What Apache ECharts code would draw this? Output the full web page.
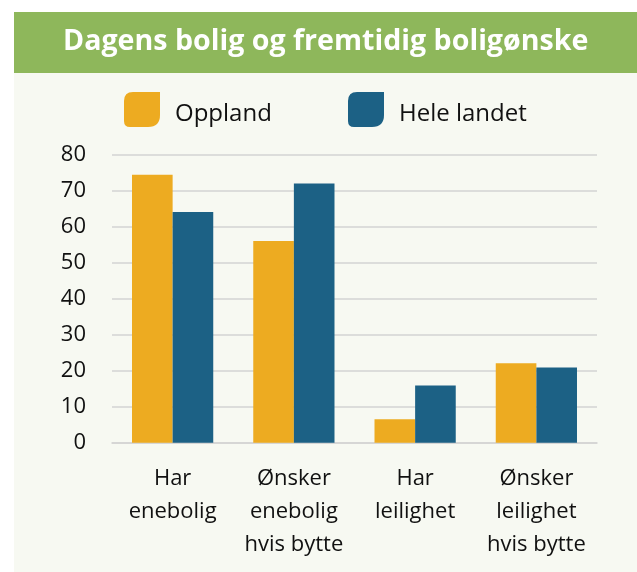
<!DOCTYPE html>
<html>
<head>
<meta charset="utf-8">
<script src="https://cdn.jsdelivr.net/npm/echarts@6/dist/echarts.min.js"></script>
<style>html,body{margin:0;padding:0;background:#fff;}#c{width:637px;height:572px;}</style>
</head>
<body>
<div id="c"></div>
<script>
var titleText = 'Dagens bolig og fremtidig boligønske';
var categories = ['Har\nenebolig', 'Ønsker\nenebolig\nhvis bytte', 'Har\nleilighet', 'Ønsker\nleilighet\nhvis bytte'];
var seriesNames = ['Oppland', 'Hele landet'];
var oppland = [74.4, 56.0, 6.5, 22.1];
var heleLandet = [64.1, 72.0, 15.9, 20.9];
var yTicks = [0, 10, 20, 30, 40, 50, 60, 70, 80];

var leaf = 'path://M9,0 L36,0 L36,23 Q36,35 24,35 L6,35 Q0,35 0,29 L0,9 Q0,0 9,0 Z';
var chart = echarts.init(document.getElementById('c'), null, {renderer: 'canvas'});
var font = '"Open Sans", sans-serif';
var legendText = {
  fontFamily: font, fontSize: 24, color: '#111', padding: [0, 0, 0, 10],
  rich: {n: {fontFamily: font, fontSize: 24, color: '#111', padding: [9, 0, 0, 0]}}
};
chart.setOption({
  backgroundColor: '#ffffff',
  animation: false,
  graphic: [
    {type: 'rect', z: -10, shape: {x: 14, y: 12, width: 623, height: 560}, style: {fill: '#F7F9F2'}},
    {type: 'rect', z: -9, shape: {x: 14, y: 12, width: 623, height: 61}, style: {fill: '#8EB75B'}}
  ],
  title: {
    text: titleText, left: 63, top: 27, padding: 0,
    textStyle: {color: '#ffffff', fontFamily: font, fontWeight: 'bold', fontSize: 28.6}
  },
  legend: [
    {data: [seriesNames[0]], left: 124, top: 92, padding: 0, itemWidth: 36, itemHeight: 35, icon: leaf,
     formatter: '{n|{name}}', textStyle: legendText},
    {data: [seriesNames[1]], left: 348, top: 92, padding: 0, itemWidth: 36, itemHeight: 35, icon: leaf,
     formatter: '{n|{name}}', textStyle: legendText}
  ],
  grid: {left: 112, right: 40, top: 154.7, bottom: 129.3},
  xAxis: {
    type: 'category', data: categories,
    axisLine: {show: true, lineStyle: {color: '#D3D3D3', width: 1.5}},
    axisTick: {show: false},
    axisLabel: {fontFamily: font, fontSize: 22, color: '#111', lineHeight: 33, margin: 20, interval: 0}
  },
  yAxis: {
    type: 'value', min: yTicks[0], max: yTicks[yTicks.length - 1], interval: 10,
    axisLine: {show: false}, axisTick: {show: false},
    axisLabel: {fontFamily: font, fontSize: 22, color: '#111', margin: 26},
    splitLine: {lineStyle: {color: '#D3D3D3', width: 1.5}}
  },
  series: [
    {name: seriesNames[0], type: 'bar', data: oppland, barGap: '0%', barCategoryGap: '33%', itemStyle: {color: '#EDAB21'}},
    {name: seriesNames[1], type: 'bar', data: heleLandet, barGap: '0%', barCategoryGap: '33%', itemStyle: {color: '#1C6185'}}
  ]
});
</script>
</body>
</html>
